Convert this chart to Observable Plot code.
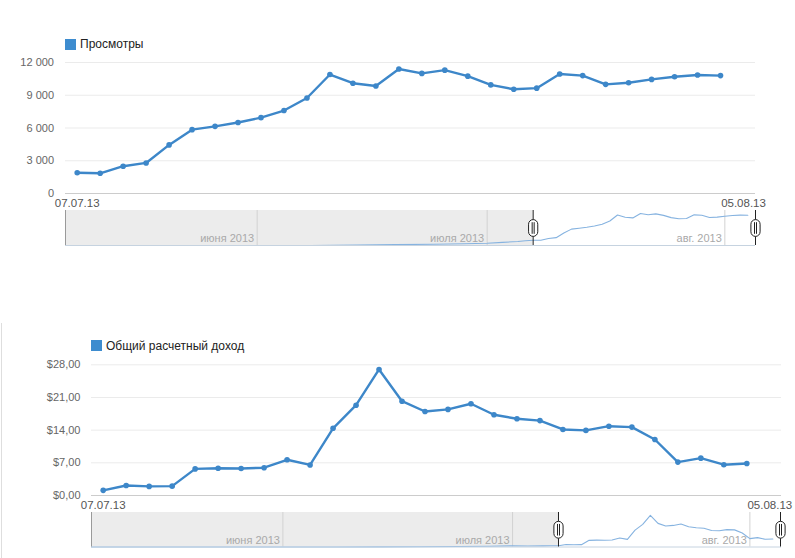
<!DOCTYPE html>
<html><head><meta charset="utf-8">
<script src="https://cdn.jsdelivr.net/npm/d3@7"></script>
<script src="https://cdn.jsdelivr.net/npm/@observablehq/plot@0.6"></script>
<style>
body{margin:0;background:#fff;}
#root{position:relative;width:795px;height:558px;overflow:hidden;font-family:Arial,"Liberation Sans",sans-serif;}
#root svg{position:absolute;left:0;}
.legend{position:absolute;font-size:12px;color:#222;display:flex;align-items:center;white-space:nowrap;height:12px;}
.legend .sw{width:11px;height:11px;background:#3d8ccf;margin-right:4px;}
.vborder{position:absolute;left:1px;top:323px;width:1px;height:235px;background:#dedede;}
</style></head><body><div id="root"></div>
<script>
// ---- data ----
const days = d3.utcDay.range(new Date("2013-07-07"), new Date("2013-08-05")); // 07.07 .. 04.08
const views = [1900, 1850, 2500, 2800, 4450, 5850, 6150, 6500, 6950, 7600, 8750, 10900, 10100, 9850, 11400,
               11000, 11300, 10750, 9950, 9550, 9650, 10950, 10800, 10000, 10150, 10450, 10700, 10850, 10800];
const revenue = [1.10, 2.15, 1.95, 2.00, 5.70, 5.85, 5.80, 5.95, 7.65, 6.55, 14.40, 19.35, 27.00, 20.20, 18.00,
                 18.45, 19.65, 17.30, 16.45, 16.05, 14.15, 13.95, 14.85, 14.65, 12.00, 7.15, 8.00, 6.60, 6.85];
// earlier period shown only in the range selector
const preDates = ["2013-05-07", "2013-06-08", "2013-06-14", "2013-06-19", "2013-06-24", "2013-06-28", "2013-07-01", "2013-07-03", "2013-07-05", "2013-07-06"];
const preViews = [0, 0, 150, 300, 450, 600, 800, 1100, 1450, 1700];
const preRevenue = [0, 0, 0.1, 0.2, 0.4, 0.7, 1.0, 0.9, 1.0, 1.1];

const viewTicks = [0, 3000, 6000, 9000, 12000];
const revenueTicks = [0, 7, 14, 21, 28];
const edgeDates = ["2013-07-07", "2013-08-05"];
const navDomain = ["2013-05-07", "2013-08-05"];
const selection = ["2013-07-07", "2013-08-05"];
const monthStarts = ["2013-06-01", "2013-07-01", "2013-08-01"];
const monthLabels = ["июня 2013", "июля 2013", "авг. 2013"];
const seriesNames = ["Просмотры", "Общий расчетный доход"];

// ---- drawing ----
const P = s => new Date(s);
const BLUE = "#3d87c9";
const fmtDate = d3.utcFormat("%d.%m.%y");
const root = document.getElementById("root");
const baseStyle = {background: "transparent", fontFamily: "Arial, 'Liberation Sans', sans-serif", fontSize: "11px", color: "#666", overflow: "visible"};

const pill = {draw(ctx) {
  const w = 4.6, h = 8.4, r = 4.6;
  ctx.moveTo(-w, -h + r);
  ctx.arc(0, -h + r, r, Math.PI, 0);
  ctx.lineTo(w, h - r);
  ctx.arc(0, h - r, r, 0, Math.PI);
  ctx.closePath();
  ctx.moveTo(-1, -h + 2.6); ctx.lineTo(-1, h - 2.6);
  ctx.moveTo(1, -h + 2.6); ctx.lineTo(1, h - 2.6);
}};

function chart(c) {
  const data = days.map((d, i) => ({date: d, value: c.values[i]}));
  const navData = preDates.map((d, i) => ({date: P(d), value: c.pre[i]})).concat(data);
  const top = c.ticks[c.ticks.length - 1];

  const main = Plot.plot({
    width: 795, height: c.h,
    marginLeft: c.left, marginRight: 795 - c.right, marginTop: c.yTop, marginBottom: c.h - c.yBottom,
    style: baseStyle,
    x: {type: "utc", domain: edgeDates.map(P), range: [c.x0, c.x1], axis: null},
    y: {domain: [0, top], range: [c.yBottom, c.yTop]},
    marks: [
      Plot.ruleY(c.ticks.filter(t => t > 0), {stroke: "#ebebeb"}),
      Plot.ruleY([0], {stroke: "#cccccc"}),
      Plot.axisY({ticks: c.ticks, tickSize: 0, tickPadding: c.pad, tickFormat: c.fmt, fill: "#666", fontSize: 11, label: null}),
      Plot.line(data, {x: "date", y: "value", stroke: BLUE, strokeWidth: 2.4}),
      Plot.dot(data, {x: "date", y: "value", fill: BLUE, r: 2.8}),
      Plot.text(edgeDates, {x: d => P(d), y: () => 0, text: d => fmtDate(P(d)), dy: 9.5, lineAnchor: "middle", fill: "#555", fontSize: 11.5})
    ]
  });
  main.style.top = c.top + "px";
  root.appendChild(main);

  const nav = Plot.plot({
    width: 795, height: c.nh,
    marginLeft: c.left, marginRight: 795 - c.right, marginTop: c.nt, marginBottom: c.nh - c.nb,
    style: baseStyle,
    x: {type: "utc", domain: navDomain.map(P), range: [c.left, c.handleR], axis: null},
    y: {domain: [0, c.navMax], range: [c.nb, c.nt], axis: null},
    marks: [
      Plot.rect([0], {x1: () => P(navDomain[0]), x2: () => P(selection[0]), y1: () => 0, y2: () => c.navMax, fill: "#ececec"}),
      Plot.ruleX(monthStarts, {x: d => P(d), stroke: "#d2d2d2"}),
      Plot.text(monthStarts, {x: d => P(d), text: (d, i) => monthLabels[i], frameAnchor: "bottom", dy: -7, dx: -3, textAnchor: "end", lineAnchor: "middle", fill: "#a9a9a9", fontSize: 11}),
      Plot.line(navData, {x: "date", y: "value", stroke: "#86b3e0", strokeWidth: 1.1}),
      Plot.ruleY([0], {stroke: "#c6d3e0"}),
      Plot.ruleX([navDomain[0]], {x: d => P(d), stroke: "#9a9a9a"}),
      Plot.ruleX(selection, {x: d => P(d), stroke: "#222"}),
      Plot.dot(selection, {x: d => P(d), frameAnchor: "middle", symbol: pill, fill: "#fff", stroke: "#222", strokeWidth: 1})
    ]
  });
  nav.style.top = c.navTop + "px";
  root.appendChild(nav);

  const lg = document.createElement("div");
  lg.className = "legend";
  lg.style.left = c.left + "px";
  lg.style.top = c.legendTop + "px";
  lg.innerHTML = '<span class="sw"></span><span>' + c.name + '</span>';
  root.appendChild(lg);
}

chart({
  name: seriesNames[0], values: views, pre: preViews, ticks: viewTicks,
  fmt: d => d3.format(",")(d).replace(/,/g, " "), pad: 11.5,
  top: 0, h: 210, left: 65, right: 755, x0: 76.7, x1: 743, yTop: 62, yBottom: 193,
  navTop: 205, nh: 45, nt: 5, nb: 40, navMax: 12500, handleR: 755,
  legendTop: 38
});
chart({
  name: seriesNames[1], values: revenue, pre: preRevenue, ticks: revenueTicks,
  fmt: d => "$" + d3.format(".2f")(d).replace(".", ","), pad: 11,
  top: 320, h: 190, left: 91, right: 781, x0: 102.7, x1: 769.3, yTop: 44.3, yBottom: 175,
  navTop: 505, nh: 48, nt: 7, nb: 41.5, navMax: 29.5, handleR: 780,
  legendTop: 339.5
});

const vb = document.createElement("div");
vb.className = "vborder";
root.appendChild(vb);
</script>
</body></html>
